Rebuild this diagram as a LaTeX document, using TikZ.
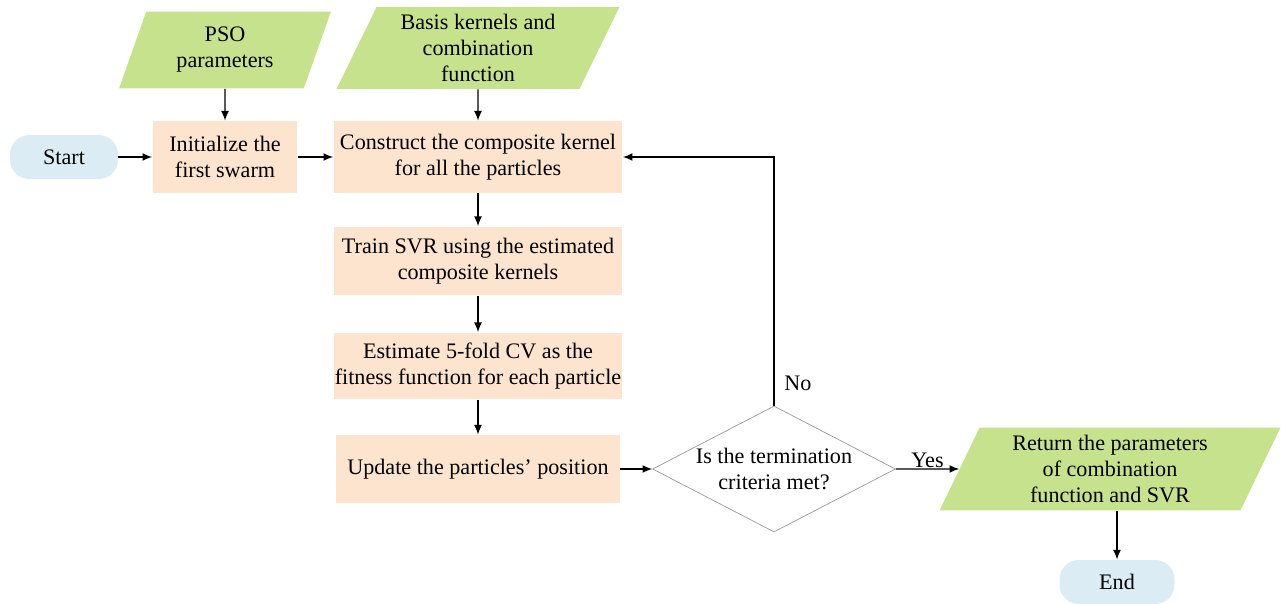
\documentclass[tikz,border=0pt]{standalone}
\usepackage{fontspec}
\setmainfont{Liberation Serif}
\newfontfamily\chartfont[Ligatures=TeX]{Liberation Serif}
\usetikzlibrary{positioning,shapes.geometric,arrows.meta}

\begin{document}
\begin{tikzpicture}[
            x=0.02cm, y=-0.02cm,
            txt/.style={font=\chartfont\fontsize{12.6}{14.8}\selectfont, align=center, inner sep=0.5pt},
            proc/.style={txt, rectangle, fill=peach, minimum width=5.78cm, minimum height=1.4cm},
            term/.style={txt, rectangle, rounded corners=11pt, fill=paleblue, minimum height=0.88cm},
            data/.style={txt, trapezium, trapezium left angle=60, trapezium right angle=120,
                         trapezium stretches body, fill=leaf},
            dec/.style={txt, diamond, draw=gray!80, aspect=1.93, inner sep=0pt,
                        minimum width=4.86cm, minimum height=2.52cm},
            every edge/.style={draw, -{Latex[length=5.5pt,width=4.5pt]}, thick},
            lbl/.style={txt}
        ]
        \definecolor{peach}{RGB}{252,228,206}
        \definecolor{paleblue}{RGB}{219,236,244}
        \definecolor{leaf}{RGB}{198,226,140}
        \useasboundingbox (0,0) rectangle (1281,604);

        % Terminals
        \node[term, minimum width=2.16cm] (start) at (64,157)  {Start};
        \node[term, minimum width=2.3cm]  (stop)  at (1117,582) {End};

        % Inputs and output
        \node[data, minimum width=4.24cm, minimum height=1.54cm] (pso)   at (225,50)   {PSO\\parameters};
        \node[data, minimum width=5.66cm, minimum height=1.64cm] (basis) at (478,48)   {Basis kernels and\\combination\\function};
        \node[data, minimum width=6.82cm, minimum height=1.66cm] (ret)   at (1110,469) {Return the parameters\\of combination\\function and SVR};

        % Process steps
        \node[proc, minimum width=2.9cm, minimum height=1.44cm] (init) at (225,157) {Initialize the\\first swarm};
        \node[proc, minimum height=1.44cm] (build) at (478,157) {Construct the composite kernel\\for all the particles};
        \node[proc, minimum height=1.38cm] (train) at (478,261) {Train SVR using the estimated\\composite kernels};
        \node[proc, minimum width=5.68cm, minimum height=1.34cm] (cv)  at (478,366) {Estimate 5-fold CV as the\\fitness function for each particle};
        \node[proc, minimum width=5.68cm, minimum height=1.36cm] (upd) at (478,469) {Update the particles' position};

        % Decision
        \node[dec] (stopq) at (774,469) {Is the termination\\criteria met?};

        % Connections
        \draw (start) edge (init);
        \draw (pso) edge (init);
        \draw (init) edge (build);
        \draw (basis) edge (build);
        \draw (build) edge (train);
        \draw (train) edge (cv);
        \draw (cv) edge (upd);
        \draw (upd) edge (stopq);
        \draw (stopq) edge node[lbl, above] {Yes} (ret);
        \draw (ret.south -| stop) edge (stop);
        \draw[-{Latex[length=5.5pt,width=4.5pt]}, thick] (stopq.north) |- node[lbl, pos=0.045, right=5pt] {No} (build.east);
    \end{tikzpicture}
\end{document}
